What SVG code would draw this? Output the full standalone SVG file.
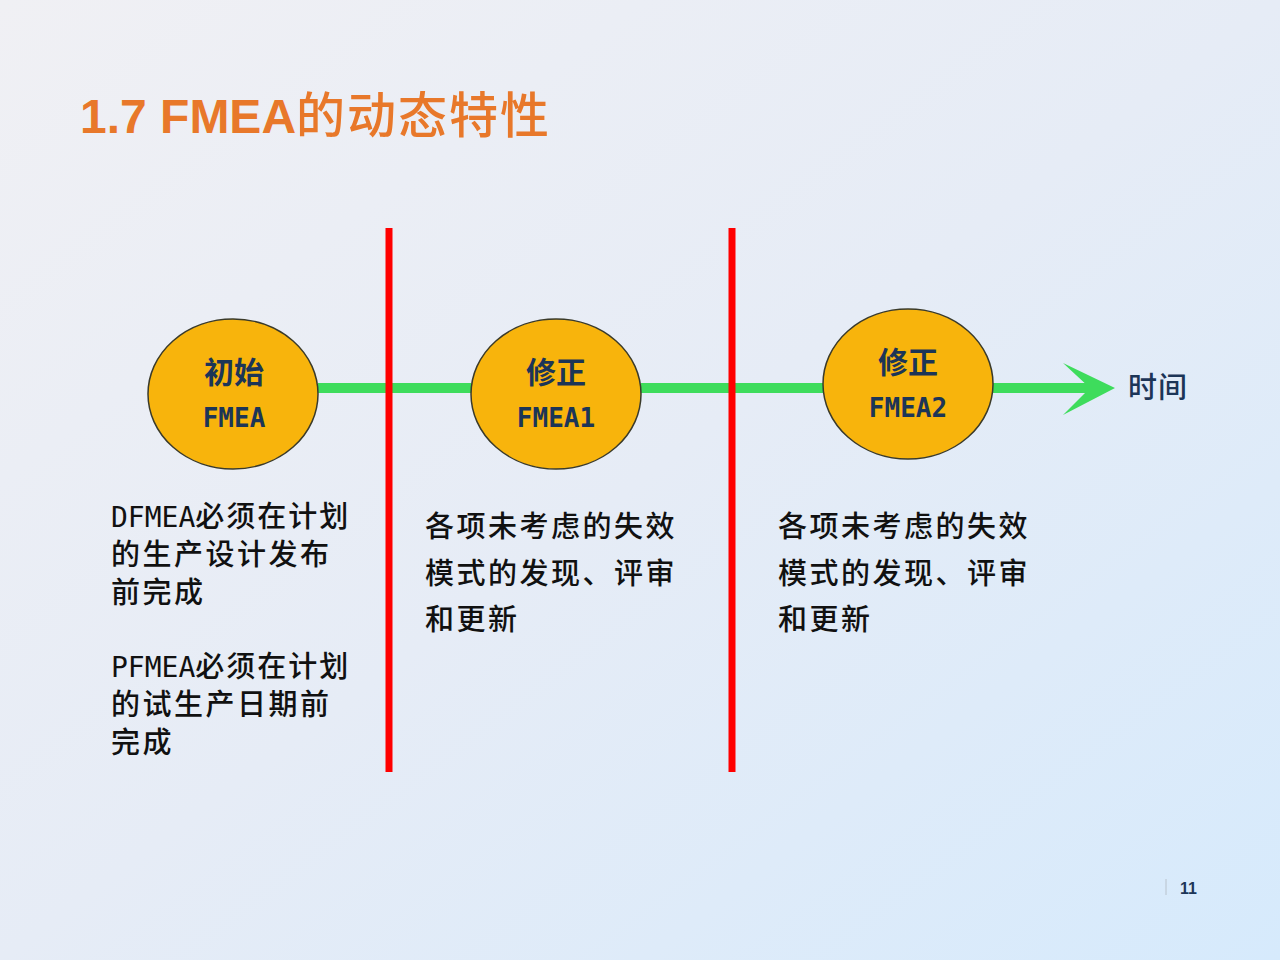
<svg xmlns="http://www.w3.org/2000/svg" width="1280" height="960" viewBox="0 0 1280 960">
<defs>
<linearGradient id="bg" x1="0" y1="0" x2="1" y2="1">
<stop offset="0" stop-color="#f0f0f4"/>
<stop offset="0.5" stop-color="#e6ecf6"/>
<stop offset="1" stop-color="#d6eafc"/>
</linearGradient>
<style>
.cjk{font-family:"Noto Sans CJK SC","Noto Sans",sans-serif;}
.mono{font-family:"DejaVu Sans Mono","Liberation Mono",monospace;}
.node ellipse{fill:#F8B40C;stroke:#3a3a2a;stroke-width:1.5;}
.nt{fill:#1c3557;text-anchor:middle;font-weight:bold;}
.body{fill:#111;font-size:29px;font-weight:500;}
.red{stroke:#ff0000;stroke-width:7;}
.grn{stroke:#3edc5c;stroke-width:10;}
</style>
</defs>
<rect width="1280" height="960" fill="url(#bg)"/>
<text x="80" y="133" fill="#E8782A" font-size="48" font-weight="bold"><tspan font-family="Liberation Sans, Arial, sans-serif">1.7 FMEA</tspan><tspan class="cjk" font-weight="500" font-size="49" letter-spacing="2">的动态特性</tspan></text>
<g id="connectors">
<line class="grn" x1="318" y1="388" x2="471" y2="388"/>
<line class="grn" x1="641" y1="388" x2="823" y2="388"/>
<line class="grn" x1="993" y1="388" x2="1092" y2="388"/>
<polygon points="1063,363 1115,388 1063,415 1090,388" fill="#3edc5c"/>
<line class="red" x1="389" y1="228" x2="389" y2="772"/>
<line class="red" x1="732" y1="228" x2="732" y2="772"/>
</g>
<g id="node1" class="node">
<ellipse cx="233" cy="394" rx="85" ry="75"/>
<text class="nt cjk" x="234" y="383" font-size="30">初始</text>
<text class="nt mono" x="234" y="427" font-size="26">FMEA</text>
</g>
<g id="node2" class="node">
<ellipse cx="556" cy="394" rx="85" ry="75"/>
<text class="nt cjk" x="556" y="383" font-size="30">修正</text>
<text class="nt mono" x="556" y="427" font-size="26">FMEA1</text>
</g>
<g id="node3" class="node">
<ellipse cx="908" cy="384" rx="85" ry="75"/>
<text class="nt cjk" x="908" y="373" font-size="30">修正</text>
<text class="nt mono" x="908" y="417" font-size="26">FMEA2</text>
</g>
<text class="cjk" x="1128" y="398" font-size="29" font-weight="500" fill="#1c3557" letter-spacing="1">时间</text>
<g id="text1" class="body">
<text x="111" y="527"><tspan class="mono" font-size="28">DFMEA</tspan><tspan class="cjk" letter-spacing="2">必须在计划</tspan></text>
<text class="cjk" x="111" y="565" letter-spacing="2.5">的生产设计发布</text>
<text class="cjk" x="111" y="603" letter-spacing="2.5">前完成</text>
<text x="111" y="677"><tspan class="mono" font-size="28">PFMEA</tspan><tspan class="cjk" letter-spacing="2">必须在计划</tspan></text>
<text class="cjk" x="111" y="715" letter-spacing="2.5">的试生产日期前</text>
<text class="cjk" x="111" y="753" letter-spacing="2.5">完成</text>
</g>
<g id="text2" class="body cjk" letter-spacing="2.5">
<text x="425" y="537">各项未考虑的失效</text>
<text x="425" y="584">模式的发现、评审</text>
<text x="425" y="630">和更新</text>
</g>
<g id="text3" class="body cjk" letter-spacing="2.5">
<text x="778" y="537">各项未考虑的失效</text>
<text x="778" y="584">模式的发现、评审</text>
<text x="778" y="630">和更新</text>
</g>
<line x1="1166" y1="879" x2="1166" y2="895" stroke="#b8c2cc" stroke-width="1"/>
<text x="1180" y="894" font-family="Liberation Sans, Arial, sans-serif" font-size="16" font-weight="bold" fill="#1c3557">11</text>
</svg>
